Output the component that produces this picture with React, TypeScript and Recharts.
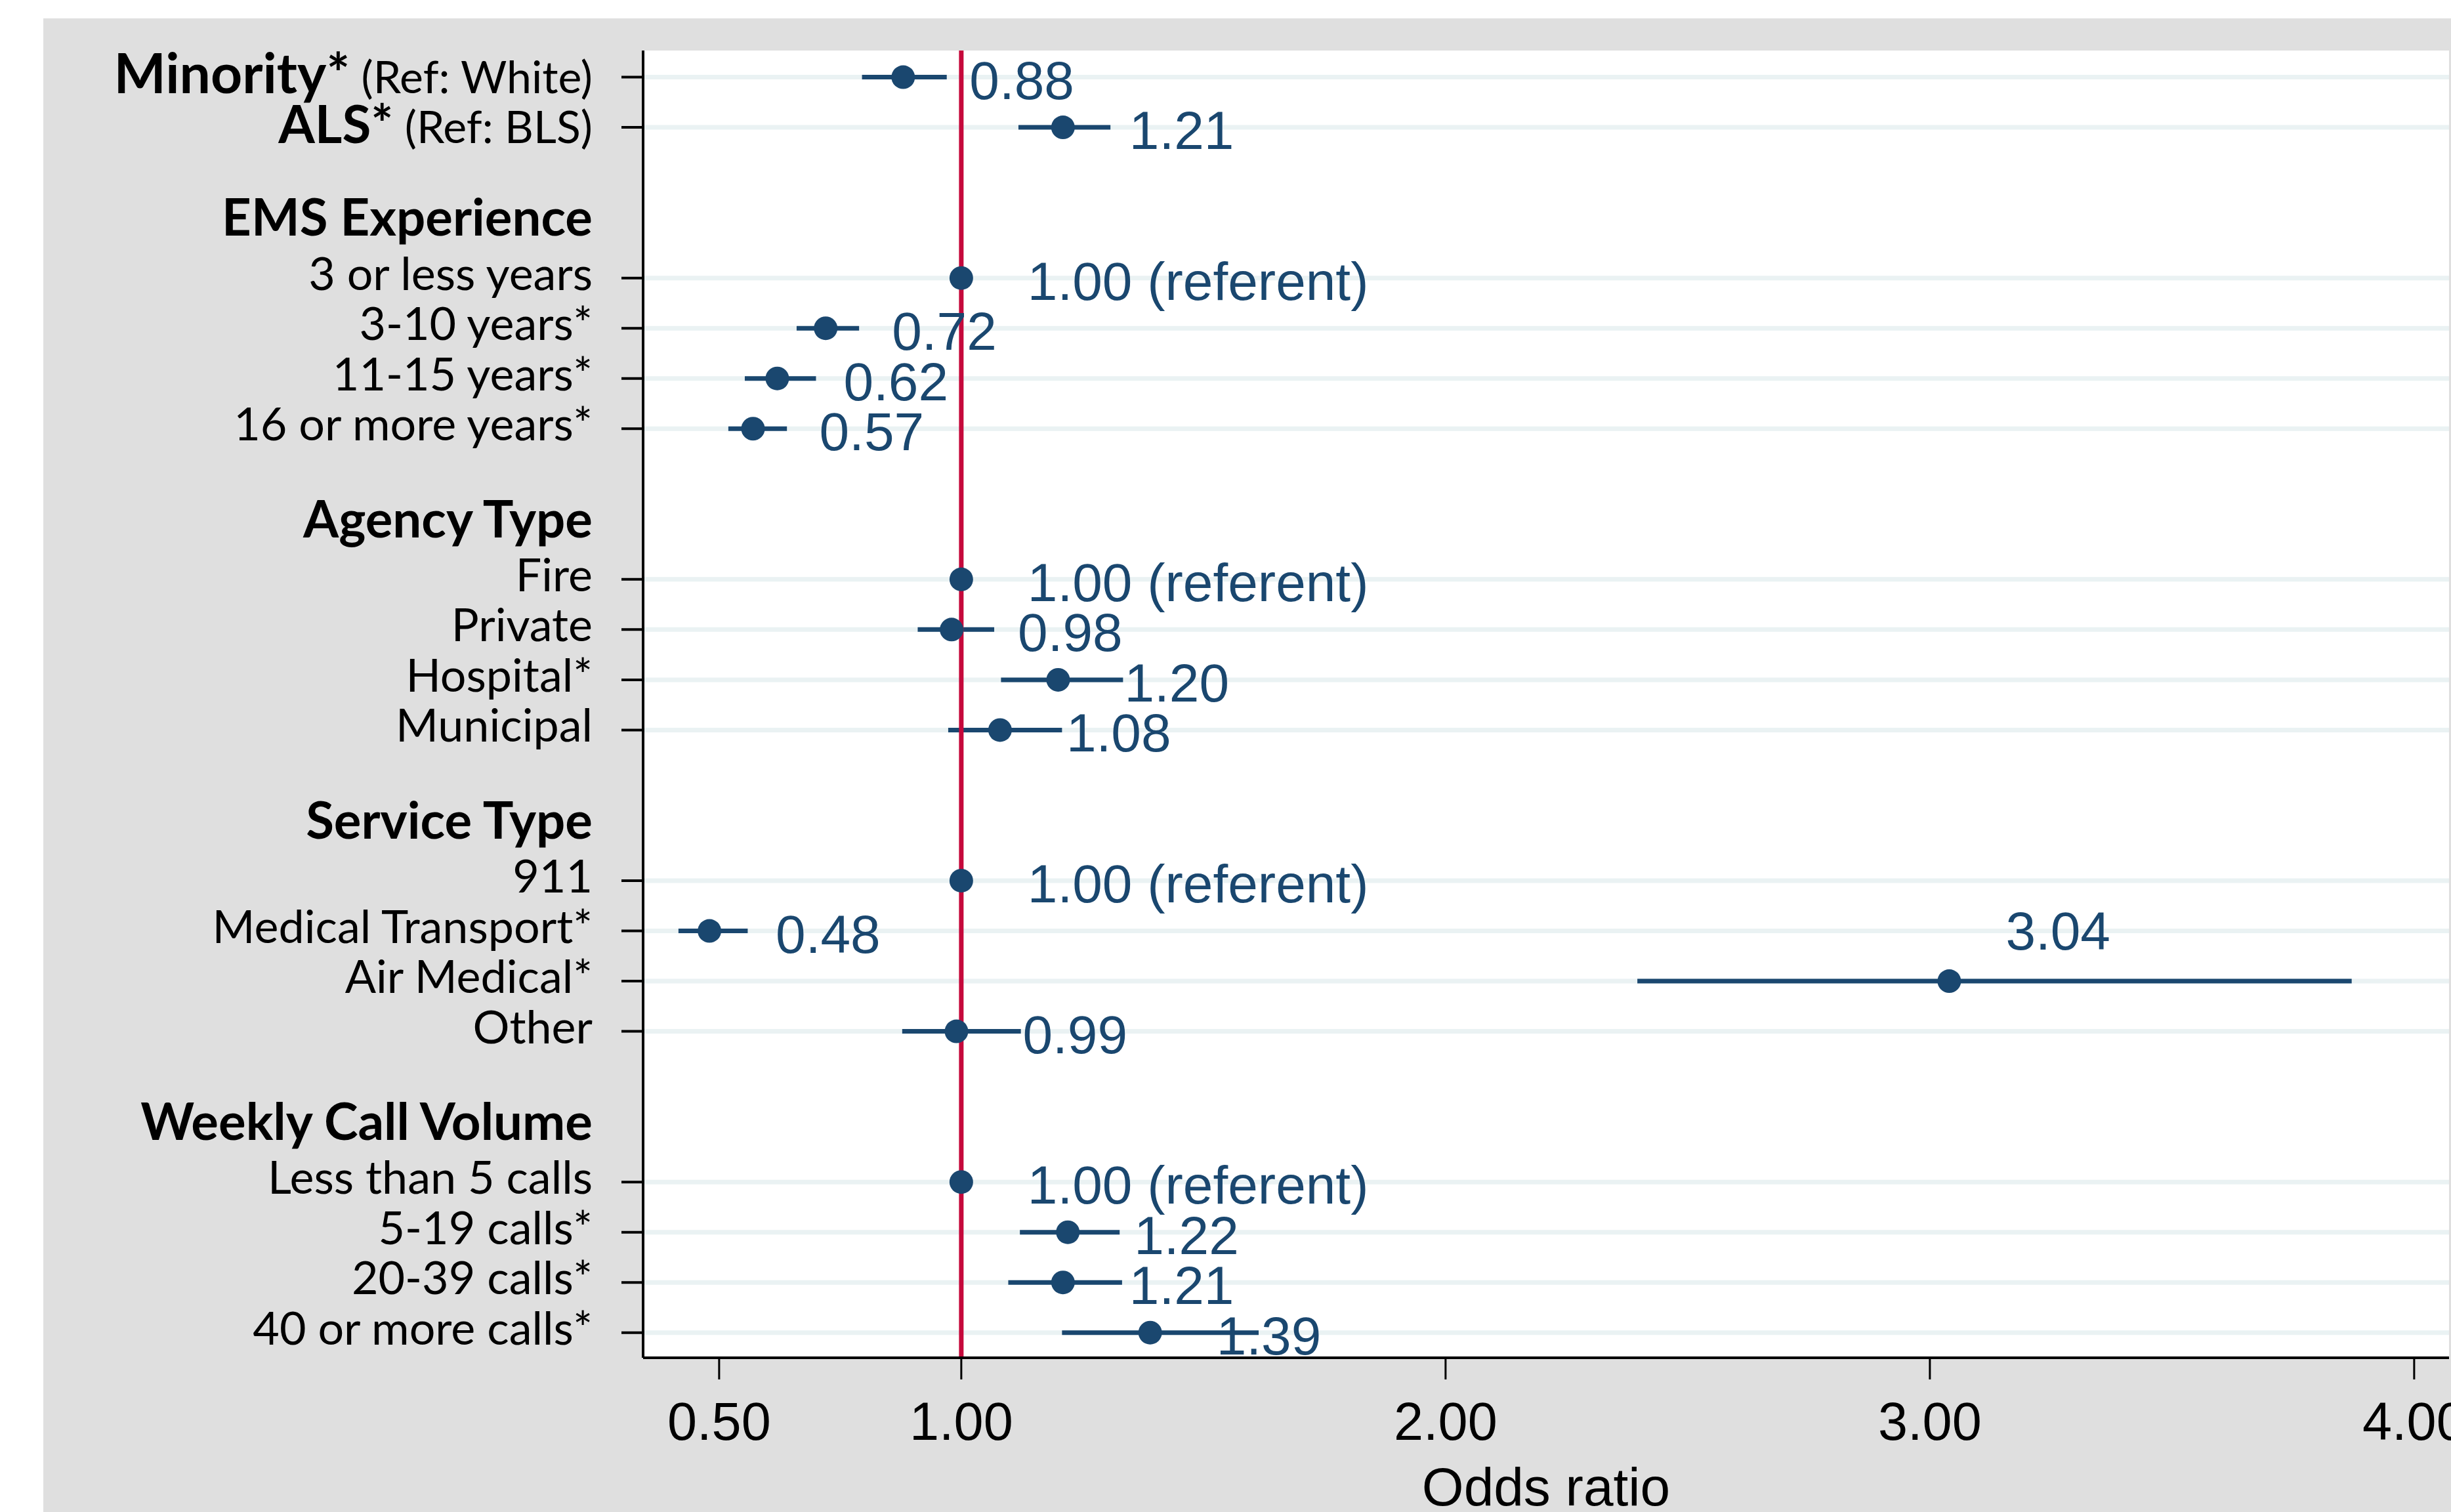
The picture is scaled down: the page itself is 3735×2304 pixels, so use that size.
import React from "react"
import {
  ScatterChart,
  Scatter,
  XAxis,
  YAxis,
  ErrorBar,
  ReferenceLine,
  CartesianGrid,
} from "recharts"

const NAVY = "#1a476f"
const RED = "#c5093b"
const GRID = "#eaf2f3"
const PANEL = "#dfdfdf"
const LABEL_FONT = "Lato, 'Open Sans', sans-serif"
const NUM_FONT = "'Liberation Sans', Arial, sans-serif"

// groups of rows, top to bottom
const groupTitles = ["", "EMS Experience", "Agency Type", "Service Type", "Weekly Call Volume"]
const groupSizes = [2, 4, 4, 4, 4]

const rowLabels = [
  "Minority*", "ALS*",
  "3 or less years", "3-10 years*", "11-15 years*", "16 or more years*",
  "Fire", "Private", "Hospital*", "Municipal",
  "911", "Medical Transport*", "Air Medical*", "Other",
  "Less than 5 calls", "5-19 calls*", "20-39 calls*", "40 or more calls*",
]
const rowNotes = ["(Ref: White)", "(Ref: BLS)"]

const oddsRatios = [0.88, 1.21, 1.0, 0.72, 0.62, 0.57, 1.0, 0.98, 1.2, 1.08, 1.0, 0.48, 3.04, 0.99, 1.0, 1.22, 1.21, 1.39]
const ciLower = [0.795, 1.118, 1.0, 0.66, 0.553, 0.519, 1.0, 0.91, 1.082, 0.973, 1.0, 0.416, 2.396, 0.878, 1.0, 1.121, 1.097, 1.208]
const ciUpper = [0.97, 1.308, 1.0, 0.789, 0.7, 0.64, 1.0, 1.068, 1.334, 1.208, 1.0, 0.559, 3.871, 1.123, 1.0, 1.327, 1.332, 1.614]
const valueLabels = [
  "0.88", "1.21",
  "1.00 (referent)", "0.72", "0.62", "0.57",
  "1.00 (referent)", "0.98", "1.20", "1.08",
  "1.00 (referent)", "0.48", "3.04", "0.99",
  "1.00 (referent)", "1.22", "1.21", "1.39",
]
const xTicks = [0.5, 1, 2, 3, 4]

// label drawn above the point instead of to the right
const labelAbove = ["Air Medical*"]

// row slots: each group after the first starts 3 slots below the previous one
const rowPos: number[] = []
const headerPos: { pos: number; title: string }[] = []
{
  let start = 0
  groupSizes.forEach((n, g) => {
    if (groupTitles[g]) headerPos.push({ pos: start - 1.1, title: groupTitles[g] })
    for (let i = 0; i < n; i++) rowPos.push(start + i)
    start += n + 2
  })
}

const rows = rowLabels.map((label, i) => ({
  label,
  note: rowNotes[i] ?? "",
  bold: i < groupSizes[0],
  row: rowPos[i],
  or: oddsRatios[i],
  err: [oddsRatios[i] - ciLower[i], ciUpper[i] - oddsRatios[i]],
  text: valueLabels[i],
  above: labelAbove.includes(label),
}))

const TICK_SIZE = 33
const TICK_MARGIN = 44

function RowTick(props: any) {
  const { x, y, payload } = props
  const v = payload.value
  const header = headerPos.find((h) => h.pos === v)
  if (header) {
    return (
      <text x={x} y={y + 20} textAnchor="end" fontFamily={LABEL_FONT} fontWeight={700} fontSize={78} fill="#000">
        {header.title}
      </text>
    )
  }
  const r = rows.find((d) => d.row === v)
  if (!r) return null
  return (
    <g>
      <line x1={x + TICK_MARGIN} x2={x + TICK_MARGIN + TICK_SIZE} y1={y} y2={y} stroke="#000" strokeWidth={4} />
      <text x={x} y={y + (r.bold ? 24 : 18)} textAnchor="end" fontFamily={LABEL_FONT} fontSize={70} fill="#000">
        {r.bold ? (
          <tspan fontWeight={700} fontSize={r.note === rowNotes[0] ? 84 : 80}>{r.label}</tspan>
        ) : (
          <tspan>{r.label}</tspan>
        )}
        {r.note ? <tspan fontSize={68}>{" " + r.note}</tspan> : null}
      </text>
    </g>
  )
}

function Marker(props: any) {
  const { cx, cy, payload } = props
  const above = payload.above
  return (
    <g>
      <circle cx={cx} cy={cy} r={18} fill={NAVY} />
      <text
        x={cx + (above ? 86 : 101)}
        y={cy + (above ? -48 : 33)}
        fontFamily={NUM_FONT}
        fontSize={82}
        fill={NAVY}
      >
        {payload.text}
      </text>
    </g>
  )
}

export default function App() {
  return (
    <div style={{ position: "absolute", left: 0, top: 0, width: 3735, height: 2304, background: "#fff" }}>
      <div style={{ position: "absolute", left: 66, top: 28, right: 0, bottom: 0, background: PANEL }} />
      <div style={{ position: "absolute", left: 0, top: 0 }}>
        <ScatterChart width={3735} height={2304} margin={{ top: 77, right: 3, bottom: 0, left: 0 }}>
          <CartesianGrid fill="#fff" horizontal={false} vertical={false} />
          {rows.map((r) => (
            <ReferenceLine key={r.label} y={r.row} stroke={GRID} strokeWidth={7} />
          ))}
          <XAxis
            type="number"
            dataKey="or"
            domain={[0.343, 4.072]}
            allowDataOverflow
            ticks={xTicks}
            interval={0}
            tickFormatter={(v) => v.toFixed(2)}
            height={235}
            tickSize={TICK_SIZE}
            tickMargin={34}
            tick={{ fill: "#000", fontSize: 81, fontFamily: NUM_FONT }}
            tickLine={{ stroke: "#000", strokeWidth: 3 }}
            axisLine={{ stroke: "#000", strokeWidth: 4 }}
            label={{ value: "Odds ratio", position: "insideBottom", offset: 10, fill: "#000", fontSize: 82, fontFamily: NUM_FONT }}
          />
          <YAxis
            type="number"
            dataKey="row"
            domain={[-0.53, 25.5]}
            allowDataOverflow
            reversed
            ticks={[...rowPos, ...headerPos.map((h) => h.pos)]}
            interval={0}
            width={980}
            tickSize={TICK_SIZE}
            tickMargin={TICK_MARGIN}
            tickLine={false}
            tick={<RowTick />}
            axisLine={{ stroke: "#000", strokeWidth: 4 }}
          />
          <Scatter data={rows} isAnimationActive={false} shape={() => <g />}>
            <ErrorBar dataKey="err" direction="x" width={0} stroke={NAVY} strokeWidth={7} isAnimationActive={false} />
          </Scatter>
          <ReferenceLine x={1} stroke={RED} strokeWidth={7} />
          <Scatter data={rows} isAnimationActive={false} shape={<Marker />} />
        </ScatterChart>
      </div>
    </div>
  )
}
